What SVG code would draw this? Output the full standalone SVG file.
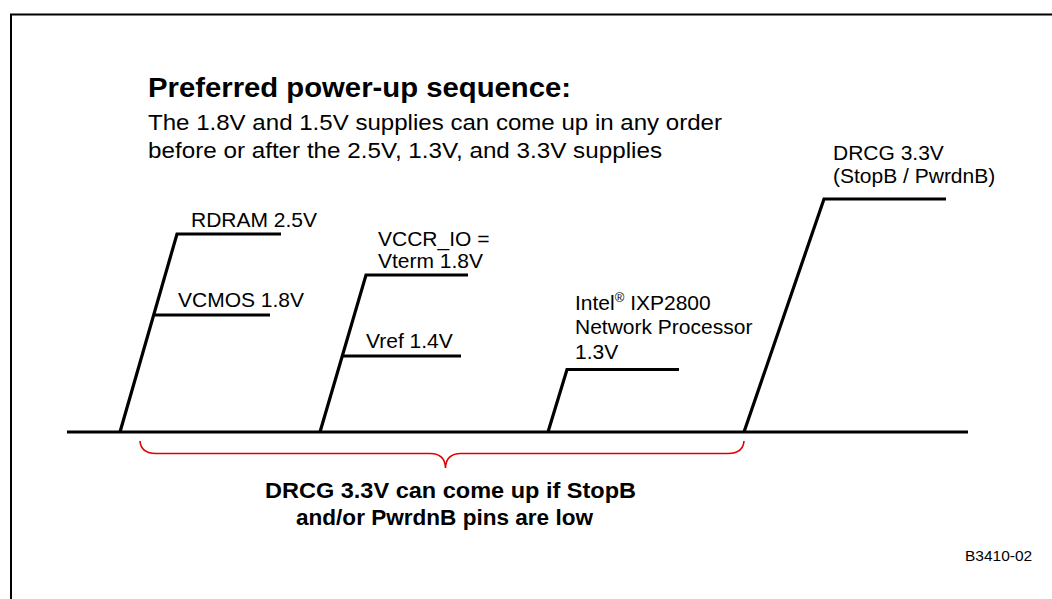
<svg xmlns="http://www.w3.org/2000/svg" width="1052" height="599" viewBox="0 0 1052 599">
<style>
.t{font-family:"Liberation Sans",Arial,sans-serif;fill:#000}
.lbl{font-size:21px}
.sub{font-size:22px}
.ttl{font-size:27px;font-weight:bold}
.note{font-size:22px;font-weight:bold}
.w{fill:none;stroke:#000;stroke-width:3.2;stroke-linejoin:miter}
.br{fill:none;stroke:#e00000;stroke-width:1.6}
</style>
<rect x="0" y="0" width="1052" height="599" fill="#fff"/>
<rect x="11" y="14.5" width="1060" height="600" fill="none" stroke="#000" stroke-width="2"/>
<g id="title">
<text class="t ttl" x="148" y="97" textLength="423" lengthAdjust="spacingAndGlyphs">Preferred power-up sequence:</text>
<text class="t sub" x="148" y="130" textLength="574" lengthAdjust="spacingAndGlyphs">The 1.8V and 1.5V supplies can come up in any order</text>
<text class="t sub" x="148" y="158" textLength="514" lengthAdjust="spacingAndGlyphs">before or after the 2.5V, 1.3V, and 3.3V supplies</text>
</g>
<g id="connectors">
<line class="w" x1="67" y1="432" x2="968" y2="432"/>
<path class="br" d="M140,441 Q141,453.5 156,453.5 L430,453.5 Q445,453.5 445.5,468 Q446,453.5 461,453.5 L728,453.5 Q743,453.5 744,441"/>
</g>
<g id="rdram">
<polyline class="w" points="120,432 177,234 281,234"/>
<line class="w" x1="155" y1="315" x2="270" y2="315"/>
<text class="t lbl" x="191" y="227">RDRAM 2.5V</text>
<text class="t lbl" x="178" y="307">VCMOS 1.8V</text>
</g>
<g id="vccr">
<polyline class="w" points="320,432 366,275 468,275"/>
<line class="w" x1="343" y1="356" x2="461" y2="356"/>
<text class="t lbl" x="378" y="246">VCCR_IO =</text>
<text class="t lbl" x="378" y="268">Vterm 1.8V</text>
<text class="t lbl" x="366" y="348">Vref 1.4V</text>
</g>
<g id="ixp">
<polyline class="w" points="548,432 567,369.5 679,369.5"/>
<text class="t lbl" x="575" y="310">Intel<tspan font-size="13" dy="-8">®</tspan><tspan dy="8"> IXP2800</tspan></text>
<text class="t lbl" x="575" y="334">Network Processor</text>
<text class="t lbl" x="575" y="359">1.3V</text>
</g>
<g id="drcg">
<polyline class="w" points="744,432 824,199 946,199"/>
<text class="t lbl" x="833" y="160">DRCG 3.3V</text>
<text class="t lbl" x="833" y="183">(StopB / PwrdnB)</text>
</g>
<g id="note">
<text class="t note" x="265" y="498" textLength="371" lengthAdjust="spacingAndGlyphs">DRCG 3.3V can come up if StopB</text>
<text class="t note" x="296" y="525" textLength="297" lengthAdjust="spacingAndGlyphs">and/or PwrdnB pins are low</text>
</g>
<text class="t" x="965" y="561" font-size="15.5">B3410-02</text>
</svg>
